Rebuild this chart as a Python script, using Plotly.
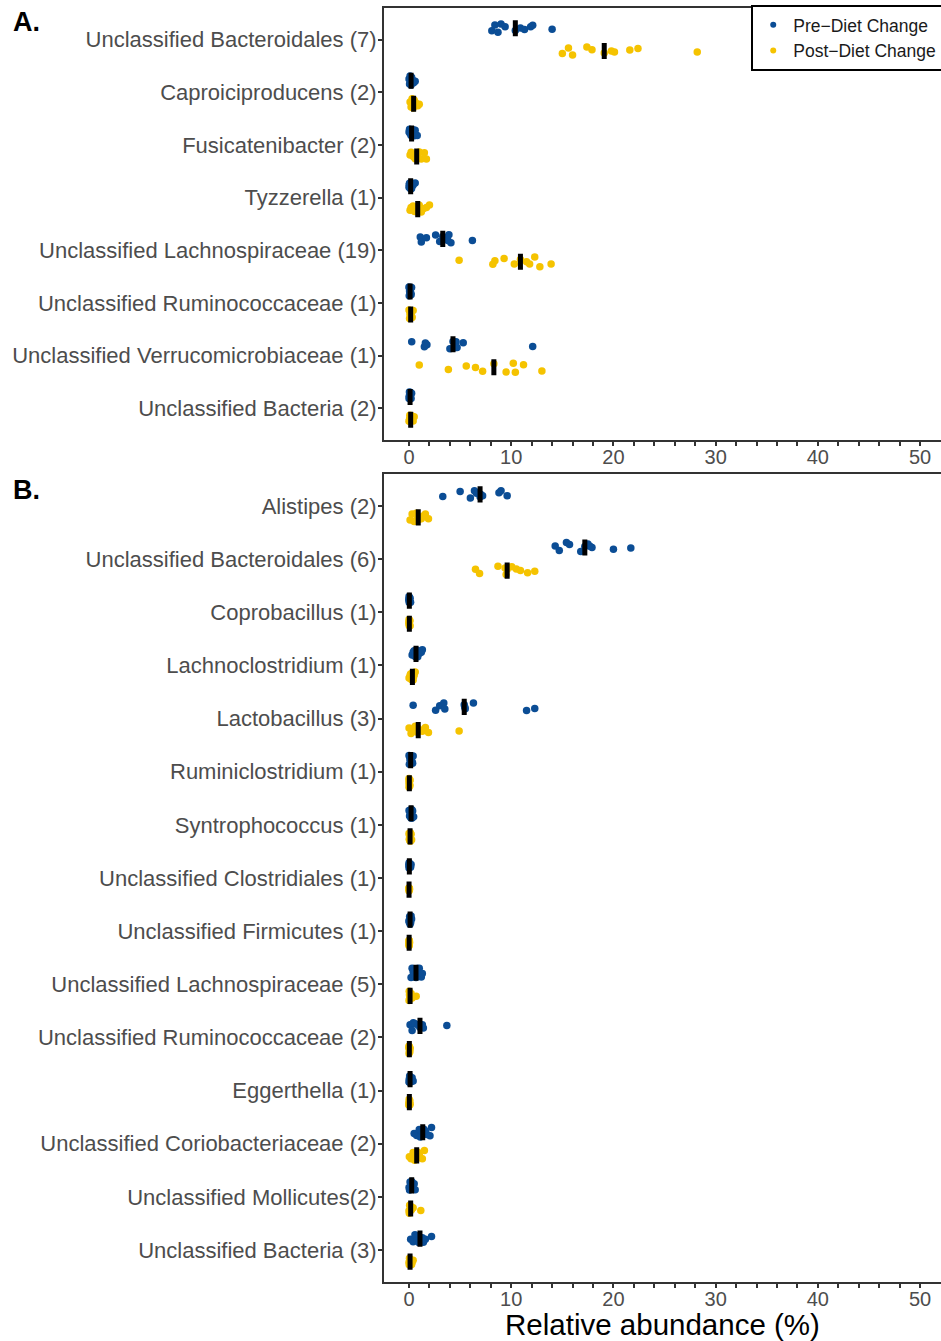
import numpy as np
import plotly.graph_objects as go
from plotly.subplots import make_subplots

# ---- Panel A: taxa and relative abundance (%) per sample ----
a_taxa = [
    "Unclassified Bacteroidales (7)",
    "Caproiciproducens (2)",
    "Fusicatenibacter (2)",
    "Tyzzerella (1)",
    "Unclassified Lachnospiraceae (19)",
    "Unclassified Ruminococcaceae (1)",
    "Unclassified Verrucomicrobiaceae (1)",
    "Unclassified Bacteria (2)",
]
a_pre = [
    [8.1, 8.4, 8.7, 9.0, 9.4, 10.4, 10.9, 11.3, 11.9, 12.1, 14.0],
    [0.0, 0.05, 0.1, 0.15, 0.2, 0.2, 0.25, 0.3, 0.35, 0.45, 0.6],
    [0.0, 0.05, 0.1, 0.15, 0.2, 0.25, 0.3, 0.4, 0.5, 0.6, 0.8],
    [0.0, 0.02, 0.05, 0.1, 0.12, 0.16, 0.2, 0.25, 0.3, 0.4, 0.6],
    [1.1, 1.2, 1.7, 2.6, 3.0, 3.3, 3.5, 3.8, 3.9, 4.1, 6.2],
    [0.0, 0.02, 0.03, 0.05, 0.08, 0.1, 0.12, 0.15, 0.18, 0.2, 0.25],
    [0.26, 1.5, 1.6, 1.75, 4.0, 4.3, 4.45, 4.6, 4.7, 5.3, 12.1],
    [0.0, 0.02, 0.04, 0.06, 0.08, 0.1, 0.12, 0.14, 0.16, 0.2, 0.25],
]
a_post = [
    [15.0, 15.6, 16.0, 17.4, 17.9, 19.1, 19.8, 20.1, 21.6, 22.4, 28.2],
    [0.1, 0.2, 0.3, 0.35, 0.4, 0.45, 0.5, 0.6, 0.7, 0.85, 1.0],
    [0.1, 0.2, 0.4, 0.5, 0.6, 0.75, 0.9, 1.0, 1.2, 1.5, 1.7],
    [0.1, 0.2, 0.4, 0.55, 0.7, 0.85, 1.0, 1.2, 1.4, 1.7, 2.0],
    [4.9, 8.2, 8.4, 9.3, 10.3, 10.9, 11.5, 11.8, 12.3, 12.8, 13.9],
    [0.0, 0.05, 0.08, 0.1, 0.12, 0.16, 0.2, 0.22, 0.25, 0.3, 0.4],
    [1.0, 3.85, 5.6, 6.5, 7.2, 8.3, 9.5, 10.2, 10.4, 11.2, 13.0],
    [0.0, 0.05, 0.08, 0.1, 0.13, 0.16, 0.2, 0.25, 0.3, 0.4, 0.5],
]

# ---- Panel B ----
b_taxa = [
    "Alistipes (2)",
    "Unclassified Bacteroidales (6)",
    "Coprobacillus (1)",
    "Lachnoclostridium (1)",
    "Lactobacillus (3)",
    "Ruminiclostridium (1)",
    "Syntrophococcus (1)",
    "Unclassified Clostridiales (1)",
    "Unclassified Firmicutes (1)",
    "Unclassified Lachnospiraceae (5)",
    "Unclassified Ruminococcaceae (2)",
    "Eggerthella (1)",
    "Unclassified Coriobacteriaceae (2)",
    "Unclassified Mollicutes(2)",
    "Unclassified Bacteria (3)",
]
b_pre = [
    [3.3, 5.0, 6.0, 6.4, 6.6, 6.95, 7.0, 7.2, 8.8, 9.0, 9.6],
    [14.3, 14.7, 15.4, 15.7, 16.8, 17.2, 17.5, 17.7, 17.9, 20.0, 21.7],
    [0.0, 0.0, 0.01, 0.02, 0.02, 0.03, 0.04, 0.05, 0.08, 0.1, 0.15],
    [0.3, 0.4, 0.5, 0.55, 0.6, 0.68, 0.75, 0.85, 1.0, 1.2, 1.3],
    [0.4, 2.6, 3.0, 3.4, 3.5, 5.4, 5.45, 5.5, 6.3, 11.5, 12.3],
    [0.0, 0.03, 0.06, 0.1, 0.13, 0.16, 0.2, 0.25, 0.3, 0.35, 0.4],
    [0.0, 0.05, 0.1, 0.15, 0.18, 0.2, 0.22, 0.28, 0.3, 0.35, 0.45],
    [0.0, 0.0, 0.01, 0.02, 0.02, 0.03, 0.05, 0.08, 0.1, 0.15, 0.2],
    [0.0, 0.02, 0.04, 0.06, 0.08, 0.1, 0.12, 0.14, 0.16, 0.2, 0.25],
    [0.2, 0.3, 0.4, 0.5, 0.6, 0.68, 0.8, 0.9, 1.0, 1.2, 1.3],
    [0.1, 0.3, 0.42, 0.6, 0.9, 1.07, 1.1, 1.2, 1.3, 1.4, 3.7],
    [0.0, 0.02, 0.04, 0.06, 0.08, 0.1, 0.12, 0.15, 0.2, 0.3, 0.4],
    [0.5, 0.75, 1.0, 1.1, 1.2, 1.34, 1.45, 1.6, 1.75, 2.05, 2.2],
    [0.0, 0.05, 0.1, 0.15, 0.2, 0.26, 0.3, 0.35, 0.4, 0.5, 0.6],
    [0.16, 0.4, 0.58, 0.8, 0.95, 1.07, 1.15, 1.3, 1.4, 1.6, 2.2],
]
b_post = [
    [0.1, 0.3, 0.5, 0.7, 0.8, 0.9, 1.0, 1.2, 1.4, 1.6, 1.9],
    [6.5, 6.9, 8.7, 9.4, 9.5, 9.6, 10.05, 10.5, 10.9, 11.6, 12.3],
    [0.0, 0.0, 0.0, 0.01, 0.02, 0.03, 0.04, 0.05, 0.06, 0.08, 0.1],
    [0.0, 0.1, 0.15, 0.2, 0.3, 0.33, 0.35, 0.4, 0.45, 0.5, 0.6],
    [0.0, 0.2, 0.4, 0.6, 0.8, 0.9, 1.0, 1.3, 1.6, 1.9, 4.9],
    [0.0, 0.0, 0.0, 0.01, 0.02, 0.03, 0.04, 0.05, 0.06, 0.08, 0.1],
    [0.0, 0.02, 0.04, 0.06, 0.08, 0.1, 0.12, 0.14, 0.16, 0.2, 0.25],
    [0.0, 0.0, 0.0, 0.0, 0.0, 0.0, 0.01, 0.01, 0.02, 0.03, 0.05],
    [0.0, 0.0, 0.0, 0.0, 0.0, 0.01, 0.01, 0.02, 0.02, 0.03, 0.05],
    [0.0, 0.02, 0.04, 0.06, 0.08, 0.1, 0.12, 0.15, 0.2, 0.3, 0.7],
    [0.0, 0.0, 0.0, 0.01, 0.02, 0.03, 0.04, 0.05, 0.06, 0.08, 0.1],
    [0.0, 0.0, 0.0, 0.01, 0.02, 0.03, 0.04, 0.05, 0.06, 0.08, 0.1],
    [0.03, 0.2, 0.4, 0.55, 0.65, 0.75, 0.85, 1.0, 1.1, 1.3, 1.5],
    [0.0, 0.03, 0.06, 0.1, 0.13, 0.16, 0.2, 0.25, 0.3, 0.4, 1.15],
    [0.0, 0.02, 0.04, 0.06, 0.08, 0.1, 0.14, 0.2, 0.25, 0.3, 0.4],
]

groups = ["Pre−Diet Change", "Post−Diet Change"]
colors = ["#0b4d95", "#f5c300"]
x_ticks = list(range(0, 51, 2))
x_ticktext = [str(v) if v % 10 == 0 else "" for v in x_ticks]

FONT = "Liberation Sans, Arial, sans-serif"

fig = make_subplots(rows=2, cols=1, vertical_spacing=0.0)


def add_panel(row, taxa, pre, post):
    for name, data, col in zip(groups, [pre, post], colors):
        ys = [t for t, vals in zip(taxa, data) for _ in vals]
        xs = [v for vals in data for v in vals]
        # jittered sample points (box outline hidden)
        fig.add_trace(
            go.Box(
                x=xs, y=ys, orientation="h", name=name,
                offsetgroup=name, boxpoints="all", jitter=0.65, pointpos=0,
                marker=dict(color=col, size=7.5, opacity=1),
                line=dict(width=0, color="rgba(0,0,0,0)"),
                fillcolor="rgba(0,0,0,0)", whiskerwidth=0,
                showlegend=False, hoverinfo="x+y",
            ),
            row=row, col=1,
        )
    for name, data in zip(groups, [pre, post]):
        med = [float(np.median(v)) for v in data]
        # median marker as a collapsed box
        fig.add_trace(
            go.Box(
                y=taxa, q1=med, median=med, q3=med,
                lowerfence=med, upperfence=med,
                orientation="h", name=name, offsetgroup=name,
                boxpoints=False, line=dict(color="black", width=5),
                fillcolor="black", whiskerwidth=0, showlegend=False,
            ),
            row=row, col=1,
        )


add_panel(1, a_taxa, a_pre, a_post)
add_panel(2, b_taxa, b_pre, b_post)

# legend entries drawn as dots
for name, col in zip(groups, colors):
    fig.add_trace(
        go.Scatter(x=[None], y=[None], mode="markers", name=name,
                   marker=dict(color=col, size=6)),
        row=1, col=1,
    )

H, W = 1341, 941
top_m, bot_m = 8, 59
ph = H - top_m - bot_m


def frac(py):
    return (H - bot_m - py) / ph


axis_common = dict(
    showline=True, mirror=True, linewidth=2, linecolor="#333333",
    ticks="outside", ticklen=4, tickwidth=1.5, tickcolor="#333333",
    showgrid=False, zeroline=False,
)

for r, taxa, dom in [(1, a_taxa, [frac(440), 1.0]), (2, b_taxa, [0.0, frac(474)])]:
    fig.update_xaxes(
        range=[-2.45, 52.05], tickvals=x_ticks, ticktext=x_ticktext,
        tickfont=dict(size=20, color="#4d4d4d", family=FONT),
        ticklabelstandoff=-6,
        row=r, col=1, **axis_common,
    )
    fig.update_yaxes(
        type="category", categoryorder="array", categoryarray=taxa,
        range=[len(taxa) - 1 + 0.6, -0.6], domain=dom,
        tickfont=dict(size=22, color="#4d4d4d", family=FONT),
        ticklabelstandoff=-3,
        row=r, col=1, **axis_common,
    )

fig.update_xaxes(
    title=dict(text="Relative abundance (%)", font=dict(size=29.5, color="black", family=FONT), standoff=4),
    row=2, col=1,
)

fig.add_annotation(text="<b>A.</b>", xref="paper", yref="paper", x=(11 - 384) / 557, y=frac(22),
                   xanchor="left", yanchor="middle", showarrow=False,
                   font=dict(size=27, color="black", family=FONT))
fig.add_annotation(text="<b>B.</b>", xref="paper", yref="paper", x=(11 - 384) / 557, y=frac(490),
                   xanchor="left", yanchor="middle", showarrow=False,
                   font=dict(size=27, color="black", family=FONT))

fig.update_layout(
    width=W, height=H,
    margin=dict(l=384, r=0, t=top_m, b=bot_m, autoexpand=False),
    paper_bgcolor="white", plot_bgcolor="white",
    boxmode="group", boxgap=0.13, boxgroupgap=0.3,
    font=dict(family=FONT),
    legend=dict(
        x=1.004, xanchor="right", y=1.0024, yanchor="top",
        bordercolor="black", borderwidth=2, bgcolor="white",
        font=dict(size=17.5, color="#1a1a1a", family=FONT),
        tracegroupgap=0,
    ),
)

fig.write_html("out.html")
